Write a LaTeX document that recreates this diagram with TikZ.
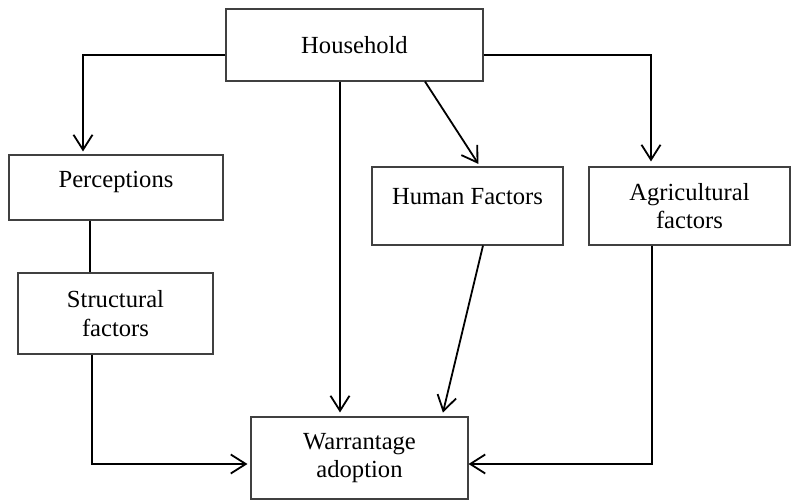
\documentclass[tikz,border=0pt]{standalone}
\usepackage{fontspec}
\setmainfont{Liberation Serif}
\usetikzlibrary{arrows.meta}
\begin{document}
\begin{tikzpicture}[x=1pt,y=-1pt,
  box/.style={draw=black!75, line width=1.1pt, rectangle, align=center, inner sep=2pt,
    font=\fontsize{24.6}{28.5}\selectfont},
  conn/.style={line width=1.8pt, black},
  arr/.style={conn, -{Straight Barb[length=15pt,width=19pt,line width=1.8pt]}}]
\useasboundingbox (0,0) rectangle (793,502);
\node[box, minimum width=257pt, minimum height=72pt] (H) at (354.5,45) {Household};
\node[box, minimum width=214pt, minimum height=65pt, text depth=17pt] (P) at (116,187.5) {Perceptions};
\node[box, minimum width=191pt, minimum height=78pt, text depth=19pt] (HF) at (467.5,206) {Human Factors};
\node[box, minimum width=201pt, minimum height=78pt] (A) at (689.5,206) {Agricultural\\factors};
\node[box, minimum width=195pt, minimum height=81pt] (S) at (115.5,313.5) {Structural\\factors};
\node[box, minimum width=217pt, minimum height=82pt] (W) at (359.5,458) {Warrantage\\adoption};
\coordinate (yh) at (0,55);
\coordinate (yb) at (0,464);
\coordinate (x83) at (83,0);
\coordinate (x651) at (651,0);
\coordinate (x340) at (340,0);
\coordinate (x425) at (425,0);
\coordinate (x480) at (480,0);
\coordinate (x483) at (483,0);
\coordinate (x442) at (442,0);
\coordinate (x90) at (90,0);
\coordinate (x92) at (92,0);
\coordinate (x652) at (652,0);
\draw[arr, shorten >=3pt] (H.west |- yh) -| (P.north -| x83);
\draw[arr, shorten >=5pt] (H.east |- yh) -| (A.north -| x651);
\draw[arr, shorten >=4pt] (H.south -| x340) -- (W.north -| x340);
\draw[arr, shorten >=3pt] (H.south -| x425) -- (HF.north -| x480);
\draw[arr, shorten >=4pt] (HF.south -| x483) -- (W.north -| x442);
\draw[conn] (P.south -| x90) -- (S.north -| x90);
\draw[arr, shorten >=3pt] (S.south -| x92) |- (W.west |- yb);
\draw[arr] (A.south -| x652) |- (W.east |- yb);
\end{tikzpicture}
\end{document}
